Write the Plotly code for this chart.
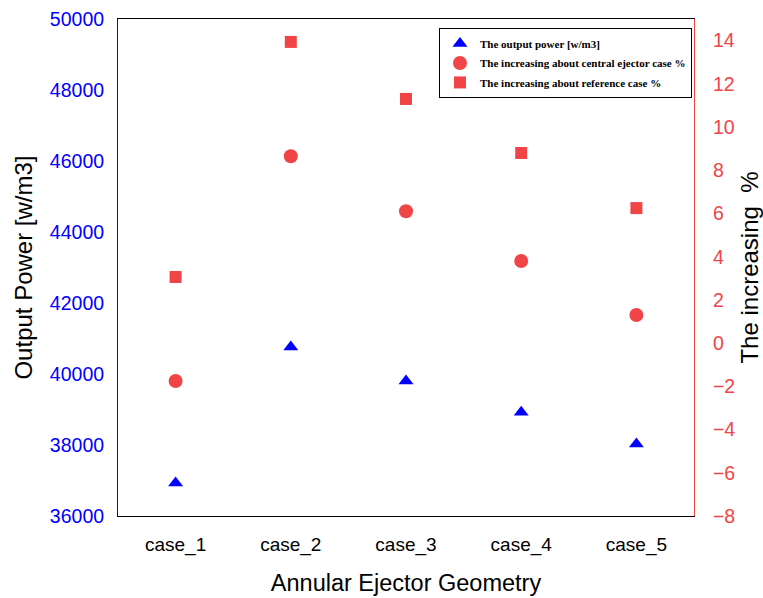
import plotly.graph_objects as go

cases = ["case_1", "case_2", "case_3", "case_4", "case_5"]
output_power = [36930, 40760, 39800, 38920, 38030]
inc_central = [-1.75, 8.65, 6.1, 3.8, 1.3]
inc_reference = [3.06, 13.94, 11.3, 8.8, 6.25]

fig = go.Figure()
fig.add_trace(go.Scatter(
    x=cases, y=output_power, mode="markers", name="The output power [w/m3]",
    marker=dict(symbol="triangle-up", size=13, color="#0000ff"),
    yaxis="y", legendgroup="a"))
fig.add_trace(go.Scatter(
    x=cases, y=inc_central, mode="markers",
    name="The increasing about central ejector case %",
    marker=dict(symbol="circle", size=14, color="#f04447"),
    yaxis="y2", legendgroup="b"))
fig.add_trace(go.Scatter(
    x=cases, y=inc_reference, mode="markers",
    name="The increasing about reference case %",
    marker=dict(symbol="square", size=12, color="#f04447"),
    yaxis="y2", legendgroup="c"))

fig.update_layout(
    width=763, height=598,
    margin=dict(l=118, r=69, t=19, b=82, autoexpand=False),
    plot_bgcolor="white", paper_bgcolor="white",
    font=dict(family="Liberation Sans, Arial", color="black"),
    showlegend=True,
    legend=dict(
        x=0.9965, y=0.982, xanchor="right", yanchor="top",
        bordercolor="black", borderwidth=1, bgcolor="white",
        font=dict(family="Liberation Serif, Times New Roman", size=11, color="black", weight="bold"),
        tracegroupgap=0.5, itemsizing="trace",
    ),
    xaxis=dict(
        range=[-0.5, 4.5], showgrid=False, zeroline=False, automargin=False,
        showline=True, linecolor="black", linewidth=1, mirror=True,
        ticks="outside", ticklen=11, tickcolor="rgba(0,0,0,0)",
        tickfont=dict(size=19, color="black"),
        title=dict(text="Annular Ejector Geometry", font=dict(size=23.5, color="black"), standoff=19),
    ),
    yaxis=dict(
        range=[36000, 50000], dtick=2000, showgrid=False, zeroline=False, automargin=False,
        showline=True, linecolor="#0000ff", linewidth=1,
        ticks="outside", ticklen=9, tickcolor="rgba(0,0,0,0)",
        tickfont=dict(size=19.5, color="#0000ff"), tickformat="d",
        title=dict(text="Output Power [w/m3]", font=dict(size=24, color="black"), standoff=10),
    ),
    yaxis2=dict(
        range=[-8, 15], dtick=2, tick0=0, overlaying="y", side="right",
        showgrid=False, zeroline=False, automargin=False,
        showline=True, linecolor="#f04447", linewidth=1,
        ticks="outside", ticklen=14, tickcolor="rgba(0,0,0,0)",
        tickfont=dict(size=19.5, color="#f04447"),
        title=dict(text="The increasing  %", font=dict(size=24, color="black"), standoff=8),
    ),
)

fig.write_html("out.html")
